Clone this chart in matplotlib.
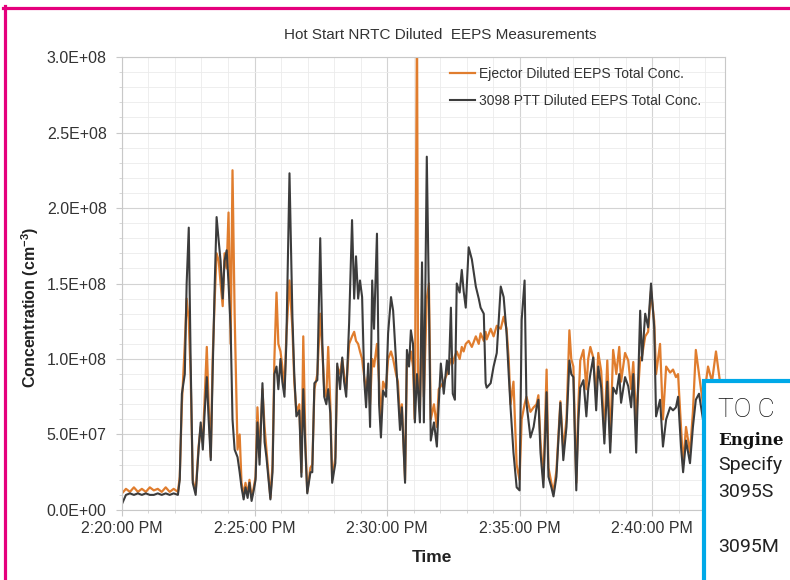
import matplotlib.pyplot as plt
from matplotlib.ticker import MultipleLocator, FuncFormatter
from matplotlib.patches import Rectangle
from matplotlib.lines import Line2D
import numpy as np

plt.rcParams['font.family'] = ['Liberation Sans', 'DejaVu Sans']
plt.rcParams['mathtext.default'] = 'regular'

# time in minutes after 2:20:00 PM
t_min = [0.00, 0.15, 0.30, 0.45, 0.60, 0.75, 0.90, 1.05, 1.20, 1.35, 1.50, 1.65, 1.80, 1.95, 2.11,
         2.18, 2.26, 2.37, 2.44, 2.52, 2.59, 2.67, 2.78, 2.89, 2.97, 3.05, 3.12, 3.20, 3.27, 3.35,
         3.42, 3.50, 3.57, 3.65, 3.72, 3.80, 3.87, 3.95, 4.02, 4.10, 4.17, 4.25, 4.36, 4.44, 4.51,
         4.59, 4.66, 4.74, 4.81, 4.89, 4.96, 5.04, 5.11, 5.19, 5.30, 5.38, 5.45, 5.53, 5.60, 5.68,
         5.75, 5.83, 5.90, 5.98, 6.05, 6.13, 6.20, 6.32, 6.43, 6.50, 6.58, 6.69, 6.77, 6.84, 6.92,
         6.99, 7.11, 7.18, 7.26, 7.37, 7.48, 7.56, 7.63, 7.71, 7.78, 7.86, 7.93, 8.05, 8.12, 8.23,
         8.31, 8.38, 8.46, 8.57, 8.68, 8.76, 8.83, 8.91, 8.98, 9.06, 9.14, 9.21, 9.29, 9.36, 9.44,
         9.51, 9.62, 9.70, 9.77, 9.85, 9.96, 10.04, 10.15, 10.23, 10.34, 10.41, 10.49, 10.56, 10.68, 10.75,
         10.83, 10.90, 10.98, 11.05, 11.13, 11.17, 11.24, 11.32, 11.39, 11.50, 11.58, 11.65, 11.77, 11.88, 11.95,
         12.03, 12.14, 12.26, 12.33, 12.41, 12.48, 12.56, 12.63, 12.74, 12.82, 12.89, 12.97, 13.08, 13.20, 13.35,
         13.46, 13.53, 13.65, 13.72, 13.76, 13.91, 14.02, 14.14, 14.29, 14.40, 14.51, 14.59, 14.66, 14.77, 14.89,
         15.00, 15.08, 15.19, 15.26, 15.41, 15.53, 15.64, 15.71, 15.79, 15.90, 16.02, 16.09, 16.20, 16.28, 16.39,
         16.54, 16.65, 16.77, 16.88, 16.95, 17.03, 17.14, 17.22, 17.29, 17.41, 17.52, 17.59, 17.67, 17.78, 17.89,
         17.97, 18.08, 18.20, 18.31, 18.42, 18.53, 18.65, 18.76, 18.83, 18.98, 19.10, 19.21, 19.29, 19.40, 19.55,
         19.62, 19.74, 19.85, 19.96, 20.08, 20.15, 20.30, 20.41, 20.53, 20.68, 20.79, 20.90, 20.98, 21.09, 21.17,
         21.28, 21.43, 21.54, 21.65, 21.77, 21.92, 22.11, 22.26, 22.41, 22.56]

# concentrations, 1e6 per cm^3
ptt_e6 = [4, 10, 11, 10, 11, 10, 11, 10, 10, 11, 10, 11, 10, 11, 10,
          20, 77, 90, 150, 187, 100, 18, 10, 40, 58, 40, 65, 88, 60, 33,
          90, 150, 194, 178, 165, 140, 165, 172, 150, 120, 60, 40, 35, 25, 15,
          7, 15, 8, 18, 6, 12, 20, 58, 30, 84, 45, 35, 20, 7, 25,
          90, 95, 80, 100, 85, 75, 110, 223, 128, 90, 62, 66, 22, 80, 40,
          11, 25, 25, 84, 86, 180, 110, 75, 70, 80, 64, 18, 31, 97, 80,
          101, 85, 75, 124, 192, 140, 168, 140, 152, 141, 86, 68, 97, 55, 152,
          120, 183, 70, 48, 79, 75, 117, 141, 132, 99, 79, 53, 68, 18, 106,
          95, 119, 110, 58, 90, 80, 58, 164, 58, 234, 140, 46, 58, 42, 70,
          97, 77, 99, 90, 134, 77, 73, 150, 144, 159, 145, 134, 174, 166, 148,
          140, 134, 130, 84, 81, 84, 95, 104, 148, 141, 117, 90, 68, 38, 15,
          13, 126, 152, 71, 48, 55, 68, 73, 38, 15, 78, 22, 15, 9, 22,
          71, 33, 55, 99, 90, 88, 13, 60, 81, 86, 62, 80, 90, 101, 66,
          95, 81, 44, 85, 38, 81, 77, 90, 71, 88, 82, 68, 90, 38, 132,
          99, 130, 121, 150, 121, 62, 73, 42, 60, 68, 66, 68, 75, 42, 25,
          46, 31, 55, 73, 77, 60, 78, 70, 85, 78]

ejector_e6 = [11, 14, 12, 15, 12, 14, 12, 15, 13, 14, 12, 15, 12, 14, 12,
              22, 70, 110, 140, 125, 90, 20, 12, 42, 55, 45, 75, 108, 70, 35,
              100, 140, 170, 165, 150, 135, 170, 160, 197, 110, 225, 130, 40, 50, 18,
              10, 18, 10, 20, 8, 14, 22, 68, 35, 80, 55, 40, 22, 8, 30,
              100, 144, 110, 105, 95, 80, 115, 152, 120, 85, 65, 70, 25, 115, 45,
              12, 28, 30, 80, 90, 130, 105, 80, 75, 108, 70, 20, 35, 95, 90,
              100, 90, 80, 110, 115, 118, 112, 110, 105, 100, 88, 80, 90, 70, 100,
              95, 110, 85, 60, 85, 80, 100, 105, 100, 90, 85, 60, 70, 20, 100,
              98, 105, 95, 60, 330, 90, 65, 130, 75, 140, 150, 60, 70, 55, 80,
              82, 85, 90, 95, 100, 97, 102, 105, 100, 108, 105, 110, 112, 108, 115,
              110, 117, 112, 118, 113, 120, 115, 122, 120, 128, 120, 100, 70, 85, 30,
              20, 60, 70, 75, 65, 68, 70, 76, 45, 20, 93, 28, 18, 12, 26,
              72, 40, 60, 119, 100, 95, 18, 70, 99, 106, 80, 100, 108, 101, 75,
              104, 92, 50, 99, 45, 106, 90, 108, 85, 104, 99, 80, 98, 60, 100,
              102, 115, 118, 145, 125, 90, 110, 60, 95, 91, 93, 88, 90, 55, 30,
              55, 38, 65, 106, 90, 70, 95, 85, 105, 85]

tick_min = [0, 5, 10, 15, 20]

fig = plt.figure(figsize=(7.9, 5.8), dpi=100)
ax = fig.add_axes([0.1544, 0.1207, 0.7633, 0.781])

t = np.array(t_min)
ax.plot(t, np.array(ejector_e6) * 1e6, color='#e07d2e', lw=1.6,
        label='Ejector Diluted EEPS Total Conc.')
ax.plot(t, np.array(ptt_e6) * 1e6, color='#3c3c3c', lw=1.5,
        label='3098 PTT Diluted EEPS Total Conc.')

ax.set_xlim(0, 22.75)
ax.set_ylim(0, 3e8)
ax.set_xticks(tick_min)
ax.xaxis.set_minor_locator(MultipleLocator(1))
ax.yaxis.set_major_locator(MultipleLocator(5e7))
ax.yaxis.set_minor_locator(MultipleLocator(1e7))


def fmt_time(m, pos):
    total = 20 + int(round(m))
    return "2:%02d:00 PM" % total


def fmt_sci(v, pos):
    if v == 0:
        return "0.0E+00"
    return "%.1E" % v


ax.xaxis.set_major_formatter(FuncFormatter(fmt_time))
ax.yaxis.set_major_formatter(FuncFormatter(fmt_sci))

ax.grid(which='major', color='#d3d3d3', lw=0.8)
ax.grid(which='minor', color='#ebebeb', lw=0.6)
ax.set_axisbelow(True)
for sp in ax.spines.values():
    sp.set_color('#c8c8c8')
ax.tick_params(which='major', length=4, color='#c8c8c8', labelsize=11.5,
               labelcolor='#333333')
ax.tick_params(axis='y', which='major', pad=7)
ax.tick_params(axis='x', which='major', pad=4)
ax.tick_params(which='minor', length=2, color='#d0d0d0')

fig.text(440 / 790, 1 - 35 / 580, 'Hot Start NRTC Diluted  EEPS Measurements',
         ha='center', va='center', fontsize=11, color='#333333')
fig.text(30 / 790, 1 - 307 / 580, 'Concentration (cm$^{-3}$)', rotation=90,
         ha='center', va='center', fontsize=11.5, fontweight='bold', color='#222222')
fig.text(432 / 790, 1 - 557 / 580, 'Time', ha='center', va='center',
         fontsize=12.5, fontweight='bold', color='#222222')

ax.legend(loc='upper left', bbox_to_anchor=(450 / 790, 1 - 67 / 580),
          bbox_transform=fig.transFigure, frameon=False, fontsize=10,
          handlelength=1.8, handletextpad=0.3, labelspacing=0.95,
          borderaxespad=0, borderpad=0, labelcolor='#333333')

# page decoration: magenta frame and the cyan side box
fig.add_artist(Line2D([3 / 790, 1], [1 - 7.5 / 580, 1 - 7.5 / 580],
                      transform=fig.transFigure, color='#e5007d', lw=2.3))
fig.add_artist(Line2D([4.5 / 790, 4.5 / 790], [0, 1 - 6 / 580],
                      transform=fig.transFigure, color='#e5007d', lw=2.3))
fig.add_artist(Rectangle((704 / 790, -0.1), 0.3, (580 - 381) / 580 + 0.1,
                         transform=fig.transFigure, facecolor='white',
                         edgecolor='#00a9e8', lw=3, zorder=5))
fig.text(718 / 790, 1 - 417 / 580, 'TO C', fontsize=19, family='Roboto',
         fontweight='light', color='#111111', zorder=6)
fig.text(718 / 790, 1 - 445 / 580, 'Engine', fontsize=12, family='DejaVu Serif',
         fontweight='bold', color='#111111', zorder=6)
fig.text(718 / 790, 1 - 470 / 580, 'Specify', fontsize=14, family='Roboto',
         color='#222222', zorder=6)
fig.text(718 / 790, 1 - 497 / 580, '3095S', fontsize=14, family='Roboto',
         color='#222222', zorder=6)
fig.text(718 / 790, 1 - 552 / 580, '3095M', fontsize=14, family='Roboto',
         color='#222222', zorder=6)

fig.savefig('out.png', dpi=100)
